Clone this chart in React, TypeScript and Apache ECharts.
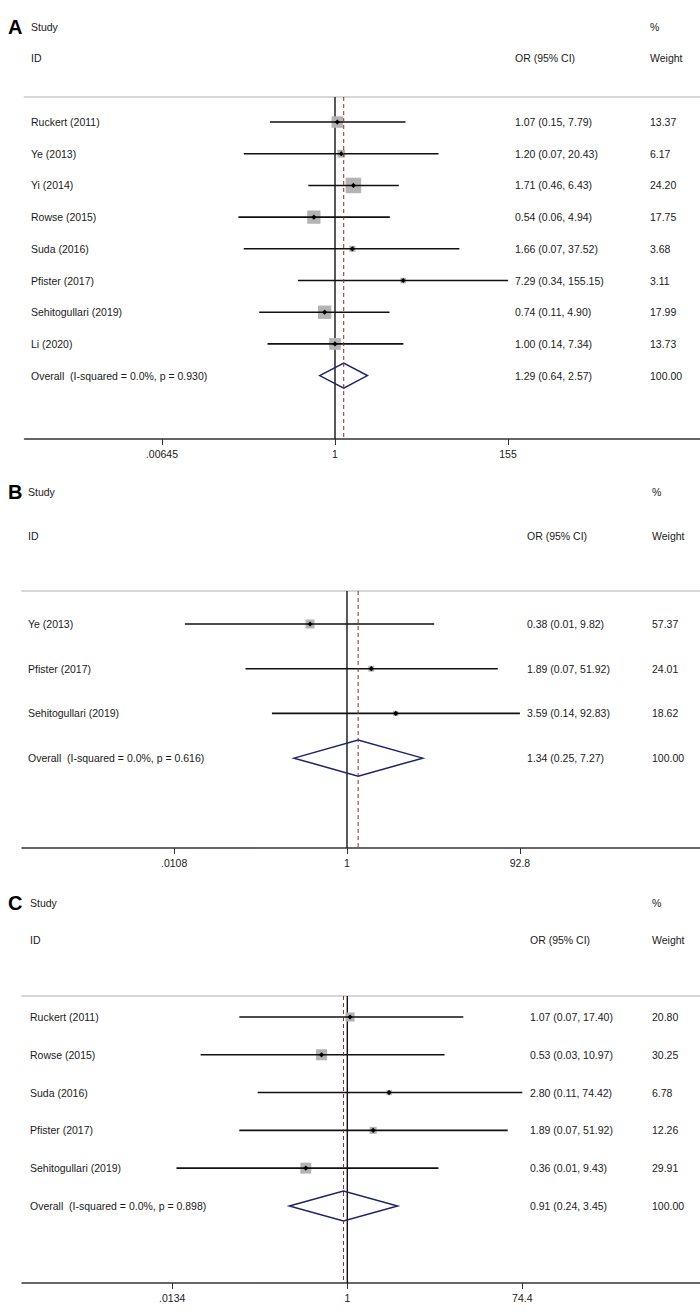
import React, { useEffect, useRef } from "react";
import * as echarts from "echarts";

// ---------- Data ----------
const studiesA = ["Ruckert (2011)", "Ye (2013)", "Yi (2014)", "Rowse (2015)", "Suda (2016)", "Pfister (2017)", "Sehitogullari (2019)", "Li (2020)"];
const orA = [1.07, 1.2, 1.71, 0.54, 1.66, 7.29, 0.74, 1.0];
const lowA = [0.15, 0.07, 0.46, 0.06, 0.07, 0.34, 0.11, 0.14];
const highA = [7.79, 20.43, 6.43, 4.94, 37.52, 155.15, 4.9, 7.34];
const weightA = [13.37, 6.17, 24.2, 17.75, 3.68, 3.11, 17.99, 13.73];
const overallA = [1.29, 0.64, 2.57];
const hetA = ["0.0", "0.930"];
const ticksA = [".00645", "1", "155"];

const studiesB = ["Ye (2013)", "Pfister (2017)", "Sehitogullari (2019)"];
const orB = [0.38, 1.89, 3.59];
const lowB = [0.0143, 0.07, 0.14];
const highB = [9.82, 51.92, 92.83];
const weightB = [57.37, 24.01, 18.62];
const overallB = [1.34, 0.25, 7.27];
const hetB = ["0.0", "0.616"];
const ticksB = [".0108", "1", "92.8"];

const studiesC = ["Ruckert (2011)", "Rowse (2015)", "Suda (2016)", "Pfister (2017)", "Sehitogullari (2019)"];
const orC = [1.07, 0.53, 2.8, 1.89, 0.36];
const lowC = [0.07, 0.027, 0.11, 0.07, 0.0149];
const highC = [17.4, 10.97, 74.42, 51.92, 9.43];
const weightC = [20.8, 30.25, 6.78, 12.26, 29.91];
const overallC = [0.91, 0.24, 3.45];
const hetC = ["0.0", "0.898"];
const ticksC = [".0134", "1", "74.4"];

const headers = { study: "Study", id: "ID", pct: "%", or: "OR (95% CI)", weight: "Weight" };

// ---------- Layout / style ----------
const FONT = "'Liberation Sans', Arial, Helvetica, sans-serif";
const FS = 10.5;
const TEXT = "#1a1a1a";

const panels = [
  {
    letter: "A", studies: studiesA, or: orA, low: lowA, high: highA, weight: weightA, overall: overallA, het: hetA, ticks: ticksA,
    L: { top: 97, bottom: 439, left: 24.5, xMin: -3.93, xMax: 4.62, yMin: -0.79, yMax: 10, boxK: 3.15, dH: 12.5, nameX: 31, orX: 515, wX: 650, h1: 27, h2: 58 },
  },
  {
    letter: "B", studies: studiesB, or: orB, low: lowB, high: highB, weight: weightB, overall: overallB, het: hetB, ticks: ticksB,
    L: { top: 591, bottom: 848, left: 22, xMin: -3.697, xMax: 4.016, yMin: -0.738, yMax: 5.01, boxK: 1.19, dH: 18, nameX: 28, orX: 527, wX: 652, h1: 492, h2: 536 },
  },
  {
    letter: "C", studies: studiesC, or: orC, low: lowC, high: highC, weight: weightC, overall: overallC, het: hetC, ticks: ticksC,
    L: { top: 996, bottom: 1283, left: 22, xMin: -3.479, xMax: 3.772, yMin: -0.556, yMax: 7.04, boxK: 2.0, dH: 15, nameX: 30, orX: 530, wX: 652, h1: 903, h2: 940 },
  },
];

const lg = (v: number) => Math.log10(v);
const f2 = (v: number) => v.toFixed(2);

function buildOption() {
  const grid: any[] = [];
  const xAxis: any[] = [];
  const yAxis: any[] = [];
  const series: any[] = [];
  const graphic: any[] = [];

  panels.forEach((P, pi) => {
    const L = P.L;
    grid.push({ left: L.left, width: 700 - L.left, top: L.top, height: L.bottom - L.top });
    const tickVals = P.ticks.map((t) => lg(parseFloat(t)));
    // bottom axis
    xAxis.push({
      type: "value", gridIndex: pi, position: "bottom", min: L.xMin, max: L.xMax,
      splitLine: { show: false },
      axisLine: { show: true, onZero: false, lineStyle: { color: "#333", width: 1.5 } },
      axisTick: { show: true, customValues: tickVals, length: 6, lineStyle: { color: "#333", width: 1 } },
      axisLabel: {
        show: true, customValues: tickVals, margin: 9, fontFamily: FONT, fontSize: FS, color: TEXT,
        formatter: (v: number) => {
          let best = 0;
          tickVals.forEach((tv, k) => { if (Math.abs(tv - v) < Math.abs(tickVals[best] - v)) best = k; });
          return P.ticks[best];
        },
      },
    });
    // top separator axis
    xAxis.push({
      type: "value", gridIndex: pi, position: "top", min: L.xMin, max: L.xMax,
      splitLine: { show: false }, axisTick: { show: false }, axisLabel: { show: false },
      axisLine: { show: true, onZero: false, lineStyle: { color: "#d6d6d6", width: 2 } },
    });
    yAxis.push({ type: "value", gridIndex: pi, inverse: true, min: L.yMin, max: L.yMax, show: false });

    const xi = pi * 2;
    // reference line at OR = 1
    series.push({
      type: "line", xAxisIndex: xi, yAxisIndex: pi, symbol: "none", silent: true, z: 1,
      data: [[0, L.yMin], [0, L.yMax]],
      lineStyle: { color: "#111", width: 1.4 },
    });
    // dashed line at overall estimate
    series.push({
      type: "line", xAxisIndex: xi, yAxisIndex: pi, symbol: "none", silent: true, z: 3,
      data: [[lg(P.overall[0]), L.yMin], [lg(P.overall[0]), L.yMax]],
      lineStyle: { color: "#8e2b2b", width: 1, type: [4, 3] },
    });

    const rows: any[] = P.studies.map((_, i) => [lg(P.or[i]), i, lg(P.low[i]), lg(P.high[i]), P.weight[i], 0]);
    rows.push([lg(P.overall[0]), P.studies.length, lg(P.overall[1]), lg(P.overall[2]), 100, 1]);

    series.push({
      type: "custom", xAxisIndex: xi, yAxisIndex: pi, z: 2, silent: true, clip: false,
      data: rows,
      renderItem: (params: any, api: any) => {
        const idx = params.dataIndex;
        const est = api.value(0), row = api.value(1), lo = api.value(2), hi = api.value(3), w = api.value(4), isOv = api.value(5);
        const [cx, cy] = api.coord([est, row]);
        const xl = api.coord([lo, row])[0];
        const xh = api.coord([hi, row])[0];
        const txt = (x: number, s: string) => ({
          type: "text", x, y: cy,
          style: { text: s, fontFamily: FONT, fontSize: FS, fill: TEXT, verticalAlign: "middle", align: "left" },
        });
        const children: any[] = [];
        if (isOv) {
          children.push({
            type: "polygon",
            shape: { points: [[xl, cy], [cx, cy - L.dH], [xh, cy], [cx, cy + L.dH]] },
            style: { fill: "none", stroke: "#1c2366", lineWidth: 1.5 },
          });
          children.push(txt(L.nameX, `Overall  (I-squared = ${P.het[0]}%, p = ${P.het[1]})`));
          children.push(txt(L.orX, `${f2(P.overall[0])} (${f2(P.overall[1])}, ${f2(P.overall[2])})`));
          children.push(txt(L.wX, f2(w)));
        } else {
          const s = L.boxK * Math.sqrt(w);
          children.push({ type: "rect", shape: { x: cx - s / 2, y: cy - s / 2, width: s, height: s }, style: { fill: "#b3b3b3" } });
          children.push({ type: "line", shape: { x1: xl, y1: cy, x2: xh, y2: cy }, style: { stroke: "#111", lineWidth: 1.6 } });
          const d = 2.6;
          children.push({ type: "polygon", shape: { points: [[cx - d, cy], [cx, cy - d], [cx + d, cy], [cx, cy + d]] }, style: { fill: "#000" } });
          children.push(txt(L.nameX, P.studies[idx]));
          children.push(txt(L.orX, `${f2(P.or[idx])} (${f2(P.low[idx])}, ${f2(P.high[idx])})`));
          children.push(txt(L.wX, f2(w)));
        }
        return { type: "group", children };
      },
    });

    // headers
    const ht = (x: number, y: number, s: string) => ({
      type: "text", x, y, style: { text: s, fontFamily: FONT, fontSize: FS, fill: TEXT, verticalAlign: "middle", align: "left" },
    });
    graphic.push({
      type: "text", x: 8, y: L.h1,
      style: { text: P.letter, fontFamily: FONT, fontSize: 20, fontWeight: "bold", fill: "#000", verticalAlign: "middle" },
    });
    graphic.push(ht(L.nameX, L.h1, headers.study));
    graphic.push(ht(L.wX, L.h1, headers.pct));
    graphic.push(ht(L.nameX, L.h2, headers.id));
    graphic.push(ht(L.orX, L.h2, headers.or));
    graphic.push(ht(L.wX, L.h2, headers.weight));
  });

  return { animation: false, backgroundColor: "#fff", grid, xAxis, yAxis, series, graphic };
}

export default function App() {
  const ref = useRef<HTMLDivElement>(null);
  useEffect(() => {
    if (!ref.current) return;
    const chart = echarts.init(ref.current, undefined, { renderer: "svg" });
    chart.setOption(buildOption() as any);
    return () => chart.dispose();
  }, []);
  return <div ref={ref} style={{ position: "absolute", left: 0, top: 0, width: 700, height: 1314, background: "#fff" }} />;
}
